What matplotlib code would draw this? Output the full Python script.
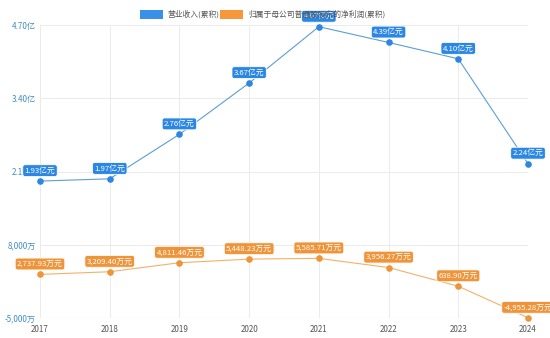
import matplotlib
matplotlib.use("Agg")
import matplotlib.pyplot as plt
from matplotlib.patches import Rectangle

plt.rcParams["font.family"] = ["Noto Sans CJK SC", "DejaVu Sans"]

years = ["2017", "2018", "2019", "2020", "2021", "2022", "2023", "2024"]
revenue = [1.93, 1.97, 2.76, 3.67, 4.67, 4.39, 4.10, 2.24]  # 亿元
profit = [2737.93, 3209.40, 4811.46, 5448.23, 5585.71, 3956.27, 638.90, -4955.28]  # 万元
revenue_ticks = [2.10, 3.40, 4.70]
profit_ticks = [-5000, 8000]
legend_names = ["营业收入(累积)", "归属于母公司普通股股东的净利润(累积)"]

BLUE = "#2b87e3"
BLUE_LINE = "#5a9fd6"
ORANGE = "#f0943a"
ORANGE_LINE = "#f3b168"
TICK_BLUE = "#3f8cc4"
GRID = "#ebebeb"


def fmt_wan(v):
    return f"{v:,.2f}万元"


fig = plt.figure(figsize=(5.5, 3.38), dpi=100)
ax = fig.add_axes([40 / 550, 20 / 338, 488 / 550, 293 / 338])
ax2 = ax.twinx()

x = list(range(len(years)))

ax.set_xlim(0, len(years) - 1)
ax.set_ylim(-0.50, 4.70)
ax2.set_ylim(-5000, 47000)

for i in x:
    ax.axvline(i, color=GRID, lw=0.7, zorder=0)
for v in [-0.50, 0.80, 2.10, 3.40, 4.70]:
    ax.axhline(v, color=GRID, lw=0.7, zorder=0)
ax.axhline(-0.50, color="#cccccc", lw=0.8, zorder=1)

ax.plot(x, revenue, color=BLUE_LINE, lw=0.8, zorder=3, clip_on=False)
ax.scatter(x, revenue, s=14, color=BLUE, zorder=4, clip_on=False)
ax2.plot(x, profit, color=ORANGE_LINE, lw=0.8, zorder=3, clip_on=False)
ax2.scatter(x, profit, s=14, color=ORANGE, zorder=4, clip_on=False)

for i, v in enumerate(revenue):
    ax.annotate(f"{v:.2f}亿元", (i, v), xytext=(0, 7.5), textcoords="offset points",
                ha="center", va="center", fontsize=5.6, color="white", zorder=6,
                annotation_clip=False,
                bbox=dict(boxstyle="round,pad=0.25,rounding_size=0.3", fc=BLUE, ec="white", lw=0.6))
for i, v in enumerate(profit):
    ax2.annotate(fmt_wan(v), (i, v), xytext=(0, 7.5), textcoords="offset points",
                 ha="center", va="center", fontsize=5.6, color="white", zorder=6,
                 annotation_clip=False,
                 bbox=dict(boxstyle="round,pad=0.25,rounding_size=0.3", fc=ORANGE, ec="white", lw=0.6))

ax.set_xticks(x)
ax.set_xticklabels(years)
ax.tick_params(axis="x", length=0, pad=5, labelsize=5.8, labelcolor="#555555")

ax.set_yticks(revenue_ticks)
ax.set_yticklabels([f"{v:.2f}亿" for v in revenue_ticks])
ax.tick_params(axis="y", length=0, pad=3, labelsize=5.8, labelcolor=TICK_BLUE)

ax2.yaxis.tick_left()
ax2.set_yticks(profit_ticks)
ax2.set_yticklabels([f"{v:,}万" for v in profit_ticks])
ax2.tick_params(axis="y", length=0, pad=3, labelsize=5.8, labelcolor=TICK_BLUE)

for a in (ax, ax2):
    for s in a.spines.values():
        s.set_visible(False)

# legend at the top
fig.patches.append(Rectangle((140 / 550, 1 - 19 / 338), 23 / 550, 9 / 338,
                             transform=fig.transFigure, fc="#3a90e8", ec="none"))
fig.text(167 / 550, 1 - 14.5 / 338, legend_names[0], fontsize=5.6, color="#555555", va="center")
fig.patches.append(Rectangle((220 / 550, 1 - 19 / 338), 23 / 550, 9 / 338,
                             transform=fig.transFigure, fc="#f7973b", ec="none"))
fig.text(248 / 550, 1 - 14.5 / 338, legend_names[1], fontsize=5.6, color="#555555", va="center")

fig.savefig("out.png", dpi=100)
